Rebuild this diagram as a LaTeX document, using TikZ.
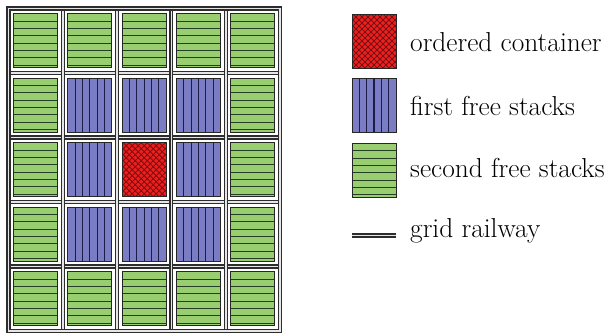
\documentclass[tikz,border=0pt]{standalone}
\usepackage{fontspec}
\definecolor{stackgreen}{RGB}{152,206,112}
\definecolor{stackgreenline}{RGB}{35,62,35}
\definecolor{stackblue}{RGB}{122,125,196}
\definecolor{stackblueline}{RGB}{28,28,72}
\definecolor{targetred}{RGB}{242,30,30}
\definecolor{targetredline}{RGB}{120,18,18}
\definecolor{railedge}{RGB}{45,45,45}
\definecolor{railgap}{RGB}{230,230,230}
\tikzset{
  stackbox/.style={rectangle, minimum width=44pt, minimum height=54pt,
    inner sep=0pt, draw=black!85, line width=1pt},
  secondfree/.style={stackbox, fill=stackgreen,
    path picture={
      \foreach \k in {1,...,7}{
        \draw[stackgreenline, line width=1.05pt]
          ([yshift=-\k*7.33pt]path picture bounding box.north west) --
          ([yshift=-\k*7.33pt]path picture bounding box.north east);
      }}},
  firstfree/.style={stackbox, fill=stackblue,
    path picture={
      \foreach \k in {1,...,5}{
        \draw[stackblueline, line width=1.05pt]
          ([xshift=\k*7.33pt]path picture bounding box.north west) --
          ([xshift=\k*7.33pt]path picture bounding box.south west);
      }}},
  ordered/.style={stackbox, fill=targetred,
    path picture={
      \foreach \s in {-66,-60,...,66}{
        \draw[targetredline, line width=0.9pt]
          ([xshift=\s pt]path picture bounding box.center) ++(-40pt,-40pt) -- ++(80pt,80pt);
        \draw[targetredline, line width=0.9pt]
          ([xshift=\s pt]path picture bounding box.center) ++(-40pt,40pt) -- ++(80pt,-80pt);
      }}},
  railway/.style={draw=railedge, line width=1.2pt, double=railgap, double distance=1.7pt},
  legendtext/.style={anchor=base west, inner sep=0pt, font=\fontsize{27.4}{32}\selectfont}
}
\begin{document}
\begin{tikzpicture}[x=1pt, y=-1pt]
\useasboundingbox (0,0) rectangle (607,333);

% container stacks of the 5x5 storage grid
\foreach \r in {1,...,5}{
  \foreach \c in {1,...,5}{
    \pgfmathsetmacro\cx{8.5+54.3*(\c-0.5)}
    \pgfmathsetmacro\cy{8.5+64.5*(\r-0.5)}
    \pgfmathtruncatemacro\kind{(\r==1 || \r==5 || \c==1 || \c==5) ? 2 : ((\r==3 && \c==3) ? 0 : 1)}
    \ifcase\kind
      \node[ordered] (cell-\r-\c) at (\cx,\cy) {};
    \or
      \node[firstfree] (cell-\r-\c) at (\cx,\cy) {};
    \or
      \node[secondfree] (cell-\r-\c) at (\cx,\cy) {};
    \fi
  }
}

% railway grid between the stacks
\foreach \k in {1,...,4}{
  \pgfmathsetmacro\gy{8.5+64.5*\k}
  \draw[railway] (8.5,\gy) -- (280,\gy);
}
\foreach \k in {1,...,4}{
  \pgfmathsetmacro\gx{8.5+54.3*\k}
  \draw[railway] (\gx,8.5) -- (\gx,331);
}
\draw[railway] (8.5,8.5) rectangle (280,331);

% legend
\node[ordered]    (key-ordered) at (374,41) {};
\node[firstfree]  (key-first)   at (374,105.5) {};
\node[secondfree] (key-second)  at (374,170.5) {};
\coordinate (key-rail-a) at (352,235.5);
\coordinate (key-rail-b) at (396,235.5);
\draw[railway] (key-rail-a) -- (key-rail-b);

\node[legendtext] (lbl-ordered) at (410,51)  {ordered container};
\node[legendtext] (lbl-first)   at (410,115) {first free stacks};
\node[legendtext] (lbl-second)  at (410,177) {second free stacks};
\node[legendtext] (lbl-rail)    at (410,237) {grid railway};
\end{tikzpicture}
\end{document}
